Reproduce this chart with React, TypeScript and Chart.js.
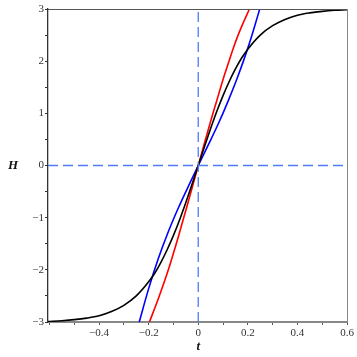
import { useEffect, useRef } from 'react';
import { Chart, registerables } from 'chart.js';

Chart.register(...registerables);

// ---- data ----
const blackT = [-0.606, -0.55, -0.5, -0.45, -0.4, -0.35, -0.3, -0.25, -0.2, -0.175, -0.15, -0.125, -0.1, -0.075, -0.05, -0.025, 0, 0.025, 0.05, 0.075, 0.1, 0.125, 0.15, 0.175, 0.2, 0.25, 0.3, 0.35, 0.4, 0.45, 0.5, 0.55, 0.6];
const blackH = [-2.99, -2.975, -2.955, -2.925, -2.88, -2.8, -2.68, -2.5, -2.23, -2.06, -1.85, -1.61, -1.34, -1.04, -0.71, -0.36, 0, 0.36, 0.71, 1.04, 1.34, 1.61, 1.85, 2.06, 2.23, 2.5, 2.68, 2.8, 2.88, 2.925, 2.955, 2.975, 2.985];

const redT = [-0.197, -0.16, -0.12, -0.08, -0.04, 0, 0.02, 0.04, 0.06, 0.08, 0.1, 0.12, 0.14, 0.16, 0.18, 0.2065];
const redH = [-3, -2.54, -1.99, -1.36, -0.69, 0, 0.34, 0.68, 1.01, 1.33, 1.65, 1.94, 2.23, 2.49, 2.72, 3];

const blueT = [-0.238, -0.2, -0.16, -0.12, -0.08, -0.04, 0, 0.04, 0.08, 0.12, 0.16, 0.2, 0.22, 0.248];
const blueH = [-3, -2.36, -1.77, -1.26, -0.81, -0.4, 0, 0.39, 0.79, 1.23, 1.71, 2.25, 2.55, 3];

const xRange = [-0.606, 0.6];
const yRange = [-3, 3];

const xTickValues = [-0.6, -0.5, -0.4, -0.3, -0.2, -0.1, 0, 0.1, 0.2, 0.3, 0.4, 0.5, 0.6];
const xLabelValues = [-0.4, -0.2, 0, 0.2, 0.4, 0.6];
const xLabels = ['\u22120.4', '\u22120.2', '0', '0.2', '0.4', '0.6'];

const yTickValues = [-3, -2.5, -2, -1.5, -1, -0.5, 0, 0.5, 1, 1.5, 2, 2.5, 3];
const yLabelValues = [-3, -2, -1, 0, 1, 2, 3];
const yLabels = ['\u22123', '\u22122', '\u22121', '0', '1', '2', '3'];

const xTitle = 't';
const yTitle = 'H';

const zeroT = [0, 0];
const zeroH = [0, 0];

const pts = (xs: number[], ys: number[]) => xs.map((x, i) => ({ x, y: ys[i] }));
const findLabel = (vals: number[], labels: string[], v: number) => {
  const i = vals.findIndex((u) => Math.abs(u - v) < 1e-9);
  return i >= 0 ? labels[i] : '';
};

const SERIF = '"Liberation Serif", "DejaVu Serif", serif';

export default function App() {
  const ref = useRef<HTMLCanvasElement | null>(null);

  useEffect(() => {
    if (!ref.current) return;

    const framePlugin = {
      id: 'frame',
      afterDraw(chart: any) {
        const { ctx, chartArea } = chart;
        const { left, right, top, bottom } = chartArea;
        ctx.save();
        ctx.lineWidth = 1;
        ctx.strokeStyle = '#555';
        ctx.beginPath();
        ctx.moveTo(left, top + 0.5);
        ctx.lineTo(right, top + 0.5);
        ctx.stroke();
        ctx.strokeStyle = '#888';
        ctx.beginPath();
        ctx.moveTo(right + 0.5, top);
        ctx.lineTo(right + 0.5, bottom);
        ctx.stroke();
        // axis titles
        ctx.fillStyle = '#111';
        ctx.font = 'italic bold 13px ' + SERIF;
        ctx.textAlign = 'center';
        ctx.textBaseline = 'middle';
        const yS = chart.scales.y;
        const xS = chart.scales.x;
        ctx.fillText(yTitle, 13, yS.getPixelForValue(0));
        ctx.fillText(xTitle, xS.getPixelForValue(0), 347);
        ctx.restore();
      },
    };

    const dashed = {
      borderColor: '#4f7cf5',
      borderWidth: 1.3,
      borderDash: [10, 5],
      pointRadius: 0,
    };

    const chart = new Chart(ref.current, {
      type: 'line',
      data: {
        datasets: [
          { ...dashed, data: pts(zeroT, yRange) },
          { ...dashed, data: pts(xRange, zeroH) },
          {
            data: pts(blackT, blackH),
            borderColor: '#000000',
            borderWidth: 1.6,
            pointRadius: 0,
            cubicInterpolationMode: 'monotone',
          },
          {
            data: pts(redT, redH),
            borderColor: '#ff0000',
            borderWidth: 1.6,
            pointRadius: 0,
            cubicInterpolationMode: 'monotone',
          },
          {
            data: pts(blueT, blueH),
            borderColor: '#0000ff',
            borderWidth: 1.6,
            pointRadius: 0,
            cubicInterpolationMode: 'monotone',
          },
        ],
      },
      options: {
        animation: false,
        responsive: false,
        maintainAspectRatio: false,
        parsing: false as any,
        layout: { padding: { top: 9, right: 10, left: 0, bottom: 0 } },
        plugins: { legend: { display: false }, tooltip: { enabled: false } },
        scales: {
          x: {
            type: 'linear',
            min: xRange[0],
            max: xRange[1],
            afterBuildTicks: (axis: any) => {
              axis.ticks = xTickValues.map((value) => ({ value }));
            },
            afterFit: (scale: any) => {
              scale.height = 35;
            },
            ticks: {
              autoSkip: false,
              maxRotation: 0,
              padding: 2,
              color: '#333',
              font: { family: SERIF, size: 11 },
              callback: (v: any) => findLabel(xLabelValues, xLabels, Number(v)),
            },
            grid: {
              drawOnChartArea: false,
              drawTicks: true,
              tickLength: 3,
              color: '#555',
            },
            border: { display: true, color: '#888', width: 2 },
          },
          y: {
            type: 'linear',
            min: yRange[0],
            max: yRange[1],
            afterBuildTicks: (axis: any) => {
              axis.ticks = yTickValues.map((value) => ({ value }));
            },
            afterFit: (scale: any) => {
              scale.width = 48;
            },
            ticks: {
              autoSkip: false,
              padding: 1,
              color: '#333',
              font: { family: SERIF, size: 11 },
              callback: (v: any) => findLabel(yLabelValues, yLabels, Number(v)),
            },
            grid: {
              drawOnChartArea: false,
              drawTicks: true,
              tickLength: 3,
              color: '#333',
            },
            border: { display: true, color: '#333', width: 1.3 },
          },
        },
      },
      plugins: [framePlugin],
    } as any);

    return () => chart.destroy();
  }, []);

  return (
    <div style={{ position: 'absolute', left: 0, top: 0, width: 357, height: 357, background: '#fff' }}>
      <canvas ref={ref} width={357} height={357} />
    </div>
  );
}
